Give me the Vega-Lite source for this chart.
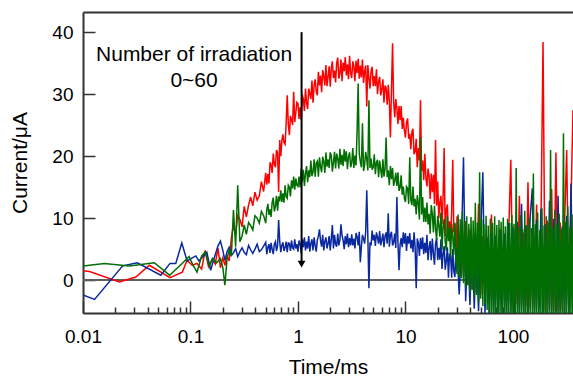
{
"$schema": "https://vega.github.io/schema/vega-lite/v6.json",
"width": 490,
"height": 301,
"autosize": "none",
"padding": {"left": 83, "top": 12, "right": 0, "bottom": 67},
"background": "white",
"config": {"view": {"stroke": null}, "font": "Liberation Sans"},
"resolve": {"axis": {"x": "independent"}},
"data": {"values": [
{"t":0.01,"r":1.5,"g":2.3,"b":-2.4},{"t":0.0115,"r":1.4},{"t":0.0128,"b":-3.1},{"t":0.0158,"g":2.7},{"t":0.0218,"r":-0.3},{"t":0.0234,"b":2.3},{"t":0.027,"g":2.3},{"t":0.031,"r":0.5},{"t":0.032,"b":2.8},{"t":0.0415,"r":2.4},{"t":0.046,"g":2.8},{"t":0.053,"b":0.8},{"t":0.064,"g":0.8},{"t":0.0645,"r":0.4,"b":2.7},{"t":0.073,"b":2.7},{"t":0.083,"b":6.0},{"t":0.084,"r":1.3},{"t":0.085,"g":2.8},{"t":0.093,"r":3.2,"b":3.1},{"t":0.097,"g":3.8},{"t":0.104,"r":2.4,"b":3.6},{"t":0.105,"g":2.5},{"t":0.112,"b":3.9},{"t":0.115,"r":2.7,"g":1.3},{"t":0.12,"b":3.1},{"t":0.127,"r":1.8,"g":3.9},{"t":0.137,"r":4.8,"g":4.5},{"t":0.142,"b":4.5},{"t":0.147,"r":2.2},{"t":0.15,"g":2.2},{"t":0.154,"b":1.6},{"t":0.16,"r":3.4,"g":3.5},{"t":0.165,"b":3.4},{"t":0.17,"r":2.6},{"t":0.175,"g":2.8},{"t":0.18,"r":5.2,"b":5.5},{"t":0.19,"r":2.0,"g":3.5,"b":6.3},
{"t":0.200,"r":3.6,"g":2.0,"b":4.8},{"t":0.209,"r":2.4,"g":-0.8,"b":3.2},{"t":0.219,"r":3.9,"g":3.5,"b":4.6},{"t":0.229,"r":3.1,"g":4.8,"b":5.3},{"t":0.240,"r":6.8,"g":3.9,"b":4.0},{"t":0.251,"r":8.9,"g":11.3,"b":4.4},{"t":0.263,"r":7.2,"g":5.4,"b":5.1},{"t":0.275,"r":10.4,"g":15.3,"b":3.8},{"t":0.288,"r":9.8,"g":6.2,"b":4.6},{"t":0.302,"r":8.6,"g":7.1,"b":5.2},{"t":0.316,"r":11.9,"g":8.9,"b":4.5},{"t":0.331,"r":10.2,"g":7.4,"b":4.1},{"t":0.347,"r":12.1,"g":9.3,"b":5.6},{"t":0.363,"r":13.4,"g":8.8,"b":4.9},{"t":0.380,"r":12.0,"g":8.1,"b":4.3},{"t":0.398,"r":14.2,"g":10.4,"b":5.0},{"t":0.417,"r":12.9,"g":10.0,"b":5.8},{"t":0.437,"r":13.6,"g":9.2,"b":4.6},{"t":0.457,"r":15.9,"g":11.1,"b":4.9},{"t":0.479,"r":14.3,"g":10.4,"b":5.5},
{"t":0.501,"r":17.3,"g":9.2,"b":6.1},{"t":0.513,"r":15.4,"g":11.4,"b":4.2},{"t":0.525,"r":17.1,"g":12.3,"b":5.3},{"t":0.537,"r":15.6,"g":10.5,"b":5.8},{"t":0.550,"r":19.0,"g":11.4,"b":4.4},{"t":0.562,"r":18.6,"g":10.2,"b":6.0},{"t":0.575,"r":17.3,"g":12.5,"b":5.0},{"t":0.589,"r":20.4,"g":13.3,"b":4.2},{"t":0.603,"r":18.7,"g":11.1,"b":5.8},{"t":0.617,"r":18.2,"g":11.9,"b":6.2},{"t":0.631,"r":21.0,"g":13.6,"b":4.7},{"t":0.646,"r":20.6,"g":11.2,"b":5.6},{"t":0.661,"r":14.2,"g":13.5,"b":9.7},{"t":0.676,"r":22.6,"g":12.7,"b":6.3},{"t":0.692,"r":20.0,"g":14.5,"b":4.5},{"t":0.708,"r":22.5,"g":12.6,"b":5.6},{"t":0.724,"r":23.5,"g":14.0,"b":6.1},{"t":0.741,"r":22.2,"g":12.5,"b":4.7},{"t":0.759,"r":21.9,"g":15.3,"b":5.3},{"t":0.776,"r":25.2,"g":13.5,"b":6.2},{"t":0.794,"r":29.8,"g":13.2,"b":4.5},{"t":0.813,"r":25.2,"g":15.3,"b":6.0},{"t":0.832,"r":23.4,"g":15.0,"b":5.9},{"t":0.851,"r":26.5,"g":13.5,"b":4.7},{"t":0.871,"r":25.9,"g":16.1,"b":6.4},{"t":0.891,"r":25.0,"g":14.8,"b":5.2},{"t":0.912,"r":30.4,"g":16.7,"b":5.0},{"t":0.933,"r":25.5,"g":14.6,"b":6.6},{"t":0.955,"r":27.0,"g":16.4,"b":5.1},{"t":0.977,"r":28.7,"g":15.3,"b":5.8},
{"t":1.000,"r":28.5,"g":15.1,"b":4.6},{"t":1.023,"r":26.0,"g":16.7,"b":6.4},{"t":1.047,"r":27.9,"g":15.0,"b":5.9},{"t":1.072,"r":25.8,"g":18.0,"b":4.3},{"t":1.096,"r":29.9,"g":15.9,"b":6.6},{"t":1.122,"r":29.2,"g":17.8,"b":5.3},{"t":1.148,"r":27.3,"g":15.2,"b":6.9},{"t":1.175,"r":30.9,"g":17.2,"b":4.8},{"t":1.202,"r":28.6,"g":18.4,"b":6.2},{"t":1.230,"r":27.6,"g":15.8,"b":5.1},
{"t":1.259,"r":30.9,"g":17.7,"b":7.1},{"t":1.288,"r":30.1,"g":16.6,"b":4.6},{"t":1.318,"r":29.2,"g":19.3,"b":5.9},{"t":1.349,"r":32.2,"g":16.8,"b":6.6},{"t":1.380,"r":28.6,"g":17.4,"b":4.8},{"t":1.413,"r":31.4,"g":19.5,"b":6.9},{"t":1.445,"r":32.4,"g":16.7,"b":5.6},{"t":1.479,"r":30.4,"g":18.9,"b":4.6},{"t":1.514,"r":29.8,"g":19.2,"b":6.5},{"t":1.549,"r":33.6,"g":16.7,"b":7.1},
{"t":1.585,"r":31.4,"g":19.8,"b":8.2},{"t":1.622,"r":33.0,"g":18.3,"b":6.3},{"t":1.660,"r":30.3,"g":17.4,"b":5.4},{"t":1.698,"r":33.9,"g":19.9,"b":7.3},{"t":1.738,"r":32.9,"g":19.1,"b":4.8},{"t":1.778,"r":31.4,"g":17.3,"b":6.3},{"t":1.820,"r":34.7,"g":20.6,"b":6.9},{"t":1.862,"r":31.3,"g":18.3,"b":5.1},{"t":1.905,"r":32.8,"g":19.5,"b":5.9},{"t":1.950,"r":34.5,"g":18.1,"b":7.1},
{"t":1.995,"r":31.2,"g":20.6,"b":4.8},{"t":2.042,"r":34.2,"g":20.1,"b":6.7},{"t":2.089,"r":35.3,"g":17.5,"b":8.9},{"t":2.138,"r":32.6,"g":19.0,"b":5.1},{"t":2.188,"r":33.8,"g":20.7,"b":7.3},{"t":2.239,"r":31.9,"g":18.0,"b":5.8},{"t":2.291,"r":35.0,"g":20.4,"b":5.4},{"t":2.344,"r":35.9,"g":19.6,"b":7.5},{"t":2.399,"r":32.5,"g":18.0,"b":5.6},{"t":2.455,"r":33.4,"g":21.2,"b":6.5},
{"t":2.512,"r":35.6,"g":18.6,"b":9.0},{"t":2.570,"r":32.1,"g":20.2,"b":7.2},{"t":2.630,"r":35.1,"g":18.4,"b":6.4},{"t":2.692,"r":33.7,"g":21.1,"b":5.0},{"t":2.754,"r":36.0,"g":19.1,"b":7.1},{"t":2.818,"r":33.0,"g":20.8,"b":5.8},{"t":2.884,"r":34.8,"g":17.9,"b":7.5},{"t":2.951,"r":32.4,"g":19.9,"b":5.3},{"t":3.020,"r":36.2,"g":20.6,"b":6.8},{"t":3.090,"r":33.4,"g":18.2,"b":5.6},
{"t":3.162,"r":32.6,"g":18.9,"b":7.4},{"t":3.236,"r":35.3,"g":21.3,"b":5.6},{"t":3.311,"r":34.5,"g":18.1,"b":6.7},{"t":3.388,"r":32.1,"g":20.1,"b":5.1},{"t":3.467,"r":35.4,"g":18.5,"b":7.6},{"t":3.548,"r":33.4,"g":24.0,"b":7.0},{"t":3.631,"r":35.7,"g":31.7,"b":5.6},{"t":3.715,"r":32.5,"g":20.4,"b":7.8},{"t":3.802,"r":34.6,"g":19.1,"b":2.9},{"t":3.890,"r":32.7,"g":18.2,"b":5.4},
{"t":3.981,"r":35.6,"g":25.3,"b":7.3},{"t":4.074,"r":31.8,"g":17.6,"b":6.7},{"t":4.169,"r":33.7,"g":18.6,"b":5.9},{"t":4.266,"r":34.6,"g":20.7,"b":7.8},{"t":4.365,"r":28.0,"g":19.5,"b":14.5},{"t":4.467,"r":34.7,"g":17.7,"b":7.0},{"t":4.571,"r":32.6,"g":29.0,"b":-1.3},{"t":4.677,"r":30.9,"g":18.1,"b":6.1},{"t":4.786,"r":33.7,"g":19.6,"b":5.6},{"t":4.898,"r":34.4,"g":17.8,"b":8.0},
{"t":5.012,"r":31.3,"g":18.2,"b":6.4},{"t":5.129,"r":32.9,"g":20.3,"b":7.3},{"t":5.248,"r":31.3,"g":17.1,"b":5.5},{"t":5.370,"r":34.0,"g":19.0,"b":7.7},{"t":5.495,"r":30.0,"g":19.4,"b":6.9},{"t":5.623,"r":32.0,"g":16.6,"b":5.9},{"t":5.754,"r":32.8,"g":19.3,"b":7.9},{"t":5.888,"r":29.8,"g":17.8,"b":5.6},{"t":6.026,"r":30.8,"g":16.5,"b":6.5},{"t":6.166,"r":32.4,"g":19.5,"b":7.5},
{"t":6.310,"r":28.6,"g":16.7,"b":5.3},{"t":6.457,"r":31.4,"g":17.9,"b":7.1},{"t":6.607,"r":31.0,"g":23.0,"b":7.7},{"t":6.761,"r":28.3,"g":16.6,"b":5.9},{"t":6.918,"r":31.5,"g":17.7,"b":10.8},{"t":7.079,"r":28.8,"g":15.3,"b":5.4},{"t":7.244,"r":23.0,"g":18.4,"b":7.3},{"t":7.413,"r":30.9,"g":16.3,"b":7.8},{"t":7.586,"r":38.2,"g":18.1,"b":5.6},{"t":7.762,"r":28.8,"g":15.2,"b":6.1},
{"t":7.943,"r":26.3,"g":16.0,"b":7.5},{"t":8.128,"r":29.2,"g":17.3,"b":5.2},{"t":8.318,"r":27.7,"g":15.2,"b":13.4},{"t":8.511,"r":25.2,"g":17.4,"b":6.2},{"t":8.710,"r":28.1,"g":14.4,"b":1.6},{"t":8.913,"r":25.8,"g":14.9,"b":5.7},{"t":9.120,"r":28.1,"g":16.9,"b":6.8},{"t":9.333,"r":24.4,"g":13.8,"b":5.3},{"t":9.550,"r":26.2,"g":15.1,"b":7.7},{"t":9.772,"r":24.1,"g":13.2,"b":5.9},
{"t":10.00,"r":23.0,"g":12.6,"b":7.6},{"t":10.23,"r":25.4,"g":15.1,"b":4.7},{"t":10.47,"r":26.1,"g":14.8,"b":7.1},{"t":10.72,"r":22.8,"g":12.3,"b":5.9},{"t":10.96,"r":23.6,"g":19.8,"b":7.6},{"t":11.22,"r":21.1,"g":12.9,"b":5.1},{"t":11.48,"r":23.9,"g":12.1,"b":6.5},{"t":11.75,"r":24.4,"g":15.1,"b":4.5},{"t":12.02,"r":20.3,"g":11.9,"b":7.7},{"t":12.30,"r":20.7,"g":13.1,"b":5.3},
{"t":12.59,"r":22.8,"g":10.6,"b":-1.3},{"t":12.88,"r":18.2,"g":13.7,"b":6.7},{"t":13.18,"r":21.3,"g":12.3,"b":6.0},{"t":13.49,"r":19.3,"g":9.8,"b":3.9},{"t":13.80,"r":29.0,"g":23.0,"b":6.8},{"t":14.13,"r":17.6,"g":10.6,"b":5.0},{"t":14.45,"r":19.3,"g":13.4,"b":6.9},{"t":14.79,"r":16.1,"g":9.4,"b":4.2},{"t":15.14,"r":20.4,"g":11.7,"b":6.0},{"t":15.49,"r":16.5,"g":9.4,"b":4.4},
{"t":15.85,"r":15.1,"g":12.5,"b":7.3},{"t":16.22,"r":18.0,"g":9.0,"b":3.2},{"t":16.60,"r":16.7,"g":10.7,"b":5.3},{"t":16.98,"r":13.1,"g":7.5,"b":6.3},{"t":17.38,"r":17.2,"g":12.1,"b":3.2},{"t":17.78,"r":14.2,"g":10.7,"b":6.7},{"t":18.20,"r":17.0,"g":7.7,"b":4.3},{"t":18.62,"r":12.3,"g":12.0,"b":2.5},{"t":19.05,"r":22.6,"g":8.3,"b":5.9},{"t":19.50,"r":12.0,"g":6.5,"b":6.8},
{"t":19.95,"r":15.9,"g":10.4,"b":3.2},{"t":20.42,"r":10.0,"g":8.8,"b":5.2},{"t":20.89,"r":12.5,"g":7.0,"b":3.3},{"t":21.38,"r":13.6,"g":10.9,"b":6.6},{"t":21.88,"r":9.0,"g":4.9,"b":1.8},{"t":22.39,"r":13.4,"g":8.7,"b":4.3},{"t":22.91,"r":21.3,"g":9.9,"b":5.5},{"t":23.44,"r":7.1,"g":6.2,"b":1.7},{"t":23.99,"r":11.4,"g":4.7,"b":3.1},{"t":24.55,"r":12.2,"g":10.3,"b":5.3},
{"t":25.12,"r":7.1,"g":6.3,"b":0.4},{"t":25.70,"r":9.5,"g":8.4,"b":4.3},{"t":26.30,"r":6.9,"g":3.6,"b":3.9},{"t":26.92,"r":11.1,"g":9.1,"b":0.4},{"t":27.54,"r":19.4,"g":7.0,"b":5.0},{"t":28.18,"r":7.7,"g":4.1,"b":1.5},{"t":28.84,"r":9.0,"g":9.3,"b":0.5},{"t":29.51,"r":3.8,"g":3.0,"b":4.9},
{"t":30.20,"r":10.3,"g":1.0,"b":4.9},{"t":31.62,"r":2.1,"g":0.5,"b":-2.3},{"t":33.11,"r":8.8,"g":0.3,"b":5.1},{"t":34.67,"r":0.6,"g":-0.5,"b":19.8},{"t":36.31,"r":9.5,"g":-1.2,"b":-3.4},{"t":38.02,"r":-0.8,"g":-0.8,"b":5.6},{"t":39.81,"r":8.2,"g":-2.0,"b":-4.0},{"t":41.69,"r":-1.5,"g":-1.6,"b":6.2},{"t":43.65,"r":7.6,"g":-2.8,"b":-4.6},{"t":45.71,"r":-2.0,"g":-2.4,"b":5.9},{"t":47.86,"r":12.3,"g":-3.6,"b":-5.0},{"t":50.12,"r":-2.4,"g":-3.0,"b":7.3},{"t":52.48,"r":7.1,"g":-4.2,"b":17.4},{"t":54.95,"r":-2.6,"g":-3.9,"b":-5.4},{"t":57.54,"r":6.9,"g":-4.8,"b":6.8},{"t":60.26,"r":-3.0,"g":-5.2,"b":-5.8},{"t":63.10,"r":10.6,"g":-6.0,"b":7.6},{"t":66.07,"r":-2.8,"g":-6.0,"b":-6.0},{"t":69.18,"r":6.5,"g":-6.0,"b":7.2},{"t":72.44,"r":-3.4,"g":-6.0,"b":-6.0},{"t":75.86,"r":8.3,"g":-6.0,"b":8.1},{"t":79.43,"r":-3.1,"g":-6.0,"b":-6.0},{"t":83.18,"r":6.2,"g":-6.0,"b":7.5},{"t":87.10,"r":-3.6,"g":-6.0,"b":-6.0},{"t":91.20,"r":7.4,"g":-6.0,"b":9.2},{"t":95.50,"r":19.4,"g":-6.0,"b":-6.0},
{"t":30.90,"g":10.6},{"t":32.36,"g":9.8},{"t":33.88,"g":11.0},{"t":35.48,"g":9.5},{"t":37.15,"g":10.3},{"t":38.90,"g":9.1},{"t":40.74,"g":10.2},{"t":42.66,"g":9.6},{"t":44.67,"g":12.5},{"t":46.77,"g":9.3},{"t":48.98,"g":17.4},{"t":51.29,"g":9.8},{"t":53.70,"g":9.0},{"t":56.23,"g":10.4},{"t":58.88,"g":8.8},{"t":61.66,"g":9.9},{"t":64.57,"g":9.2},{"t":67.61,"g":10.3},{"t":70.79,"g":8.9},{"t":74.13,"g":9.7},{"t":77.62,"g":9.4},{"t":81.28,"g":10.1},{"t":85.11,"g":8.7},{"t":89.13,"g":9.9},{"t":93.33,"g":9.2},{"t":97.72,"g":10.5},
{"t":100.0,"r":-3.5,"g":-6.0,"b":8.6},{"t":104.7,"r":8.1,"g":-6.0,"b":-6.0},{"t":109.6,"r":-3.9,"g":-6.0,"b":9.4},{"t":114.8,"r":13.6,"g":-6.0,"b":-6.0},{"t":120.2,"r":-4.0,"g":-6.0,"b":12.3},{"t":125.9,"r":7.7,"g":-6.0,"b":-6.0},{"t":131.8,"r":-4.2,"g":-6.0,"b":8.8},{"t":138.0,"r":15.8,"g":-6.0,"b":-6.0},{"t":144.5,"r":-4.4,"g":-6.0,"b":10.1},{"t":151.4,"r":8.4,"g":-6.0,"b":14.8},{"t":158.5,"r":-4.5,"g":-6.0,"b":-6.0},{"t":166.0,"r":12.2,"g":-6.0,"b":9.7},{"t":173.8,"r":-4.6,"g":-6.0,"b":-6.0},{"t":182.0,"r":7.9,"g":-6.0,"b":11.5},{"t":190.5,"r":38.4,"g":-6.0,"b":-6.0},{"t":199.5,"r":-4.8,"g":-6.0,"b":9.0},{"t":208.9,"r":9.6,"g":-6.0,"b":-6.0},{"t":218.8,"r":-4.9,"g":-6.0,"b":12.8},{"t":229.1,"r":14.7,"g":-6.0,"b":-6.0},{"t":239.9,"r":-5.0,"g":-6.0,"b":9.9},{"t":251.2,"r":20.6,"g":-6.0,"b":-6.0},{"t":263.0,"r":-5.0,"g":-6.0,"b":13.6},{"t":275.4,"r":9.3,"g":-6.0,"b":-6.0},{"t":288.4,"r":-5.0,"g":-6.0,"b":8.7},{"t":302.0,"r":8.8,"g":-6.0,"b":-6.0},{"t":316.2,"r":21.0,"g":-6.0,"b":10.4},{"t":331.1,"r":-5.0,"g":-6.0,"b":-6.0},{"t":346.7,"r":12.4,"g":-6.0,"b":15.6},{"t":362.0,"r":27.4,"g":-6.0,"b":-6.0},
{"t":102.3,"g":9.1},{"t":107.2,"g":18.1},{"t":112.2,"g":8.6},{"t":117.5,"g":10.5},{"t":123.0,"g":8.2},{"t":128.8,"g":11.2},{"t":134.9,"g":8.9},{"t":141.3,"g":10.1},{"t":147.9,"g":8.4},{"t":154.9,"g":17.2},{"t":162.2,"g":9.0},{"t":169.8,"g":10.9},{"t":177.8,"g":8.1},{"t":186.2,"g":11.6},{"t":195.0,"g":8.8},{"t":204.2,"g":10.3},{"t":213.8,"g":9.2},{"t":223.9,"g":21.0},{"t":234.4,"g":8.5},{"t":245.5,"g":11.4},{"t":257.0,"g":9.1},{"t":269.2,"g":10.7},{"t":281.8,"g":8.3},{"t":295.1,"g":23.7},{"t":309.0,"g":9.4},{"t":323.6,"g":11.9},{"t":338.8,"g":8.6},{"t":354.8,"g":10.6}
]},
"layer": [
{"mark": {"type": "rule", "color": "#606060", "strokeWidth": 1},
 "encoding": {"y": {"datum": 0, "type": "quantitative", "scale": {"domain": [-5.3, 43.25], "nice": false, "zero": false}}}},
{"mark": {"type": "line", "color": "#ff0000", "strokeWidth": 1.5, "clip": true, "invalid": "filter"},
 "encoding": {
  "x": {"field": "t", "type": "quantitative", "scale": {"type": "log", "domain": [0.01, 362], "nice": false},
   "axis": {"orient": "bottom", "values": [0.01,0.02,0.03,0.04,0.05,0.06,0.07,0.08,0.09,0.1,0.2,0.3,0.4,0.5,0.6,0.7,0.8,0.9,1,2,3,4,5,6,7,8,9,10,20,30,40,50,60,70,80,90,100,200,300],
    "labelExpr": "datum.value == 0.01 ? '0.01' : datum.value == 0.1 ? '0.1' : datum.value == 1 ? '1' : datum.value == 10 ? '10' : datum.value == 100 ? '100' : ''",
    "tickSize": {"condition": {"test": "indexof([0.01,0.1,1,10,100], datum.value) >= 0", "value": -12}, "value": -6},
    "tickColor": "#333333", "tickWidth": 1.5, "domainColor": "#333333", "domainWidth": 2, "grid": false,
    "labelFlush": false, "labelOverlap": false, "labelFont": "Liberation Sans", "labelFontSize": 19, "labelColor": "#000000", "labelPadding": 26,
    "title": "Time/ms", "titleFont": "Liberation Sans", "titleFontSize": 21, "titleFontWeight": "normal", "titleColor": "#000000", "titlePadding": 4}},
  "y": {"field": "r", "type": "quantitative", "scale": {"domain": [-5.3, 43.25], "nice": false, "zero": false},
   "axis": {"values": [0, 10, 20, 30, 40], "tickSize": -12, "tickColor": "#333333", "tickWidth": 1.5, "domainColor": "#333333", "domainWidth": 2, "grid": false,
    "labelFont": "Liberation Sans", "labelFontSize": 19, "labelColor": "#000000", "labelPadding": 22,
    "title": "Current/μA", "titleFont": "Liberation Sans", "titleFontSize": 21, "titleFontWeight": "normal", "titleColor": "#000000", "titlePadding": 21}}}},
{"mark": {"type": "line", "color": "#0a28a0", "strokeWidth": 1.5, "clip": true, "invalid": "filter"},
 "encoding": {
  "x": {"field": "t", "type": "quantitative", "scale": {"type": "log", "domain": [0.01, 362], "nice": false}, "axis": null},
  "y": {"field": "b", "type": "quantitative", "scale": {"domain": [-5.3, 43.25], "nice": false, "zero": false}}}},
{"mark": {"type": "line", "color": "#006e00", "strokeWidth": 1.5, "clip": true, "invalid": "filter"},
 "encoding": {
  "x": {"field": "t", "type": "quantitative", "scale": {"type": "log", "domain": [0.01, 362], "nice": false},
   "axis": {"orient": "top", "labels": false, "ticks": false, "title": null, "grid": false, "domain": true, "domainColor": "#333333", "domainWidth": 2}},
  "y": {"field": "g", "type": "quantitative", "scale": {"domain": [-5.3, 43.25], "nice": false, "zero": false}}}},
{"data": {"values": [{"t": 1.08, "top": 40, "tip": 2.9}]},
 "mark": {"type": "rule", "color": "#000000", "strokeWidth": 2},
 "encoding": {
  "x": {"field": "t", "type": "quantitative", "scale": {"type": "log", "domain": [0.01, 362], "nice": false}, "axis": null},
  "y": {"field": "top", "type": "quantitative", "scale": {"domain": [-5.3, 43.25], "nice": false, "zero": false}},
  "y2": {"field": "tip"}}},
{"data": {"values": [{"t": 1.08, "tip": 2.6}]},
 "mark": {"type": "point", "shape": "triangle-down", "filled": true, "color": "#000000", "size": 60, "opacity": 1},
 "encoding": {
  "x": {"field": "t", "type": "quantitative", "scale": {"type": "log", "domain": [0.01, 362], "nice": false}, "axis": null},
  "y": {"field": "tip", "type": "quantitative", "scale": {"domain": [-5.3, 43.25], "nice": false, "zero": false}}}},
{"data": {"values": [{"t": 0.108, "v": 35.3, "label": "Number of irradiation"}, {"t": 0.108, "v": 31.1, "label": "0~60"}]},
 "mark": {"type": "text", "font": "Liberation Sans", "fontSize": 21, "color": "#000000", "align": "center", "baseline": "alphabetic"},
 "encoding": {
  "x": {"field": "t", "type": "quantitative", "scale": {"type": "log", "domain": [0.01, 362], "nice": false}, "axis": null},
  "y": {"field": "v", "type": "quantitative", "scale": {"domain": [-5.3, 43.25], "nice": false, "zero": false}},
  "text": {"field": "label"}}}
]
}
